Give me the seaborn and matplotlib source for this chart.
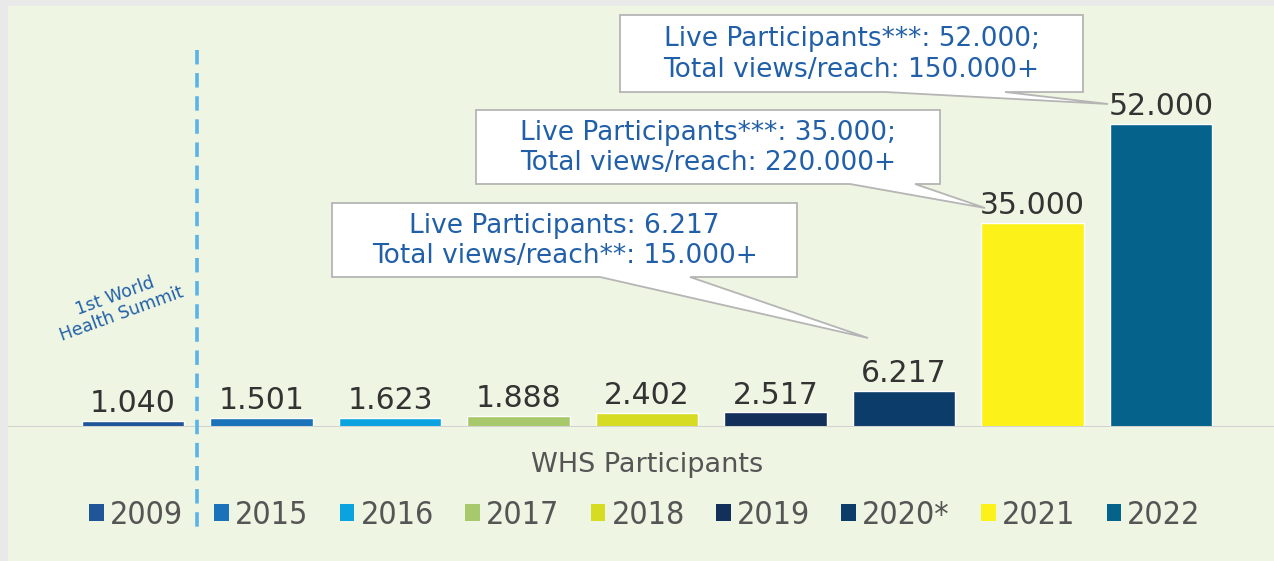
import matplotlib
matplotlib.use("Agg")
import matplotlib.pyplot as plt
import seaborn as sns
import pandas as pd
from matplotlib.patches import Patch, Polygon, Rectangle
from matplotlib.lines import Line2D
from matplotlib.font_manager import FontProperties

# data
years = ["2009", "2015", "2016", "2017", "2018", "2019", "2020*", "2021", "2022"]
participants = [1040, 1501, 1623, 1888, 2402, 2517, 6217, 35000, 52000]
value_labels = ["1.040", "1.501", "1.623", "1.888", "2.402", "2.517", "6.217", "35.000", "52.000"]
bar_colors = ["#1f5599", "#1a72b8", "#0aa3e0", "#a8c86c", "#d6dc22",
              "#12305a", "#0c3d6a", "#fcf21a", "#05628a"]

callout_texts = [
    "Live Participants***: 52.000;\nTotal views/reach: 150.000+",
    "Live Participants***: 35.000;\nTotal views/reach: 220.000+",
    "Live Participants: 6.217\nTotal views/reach**: 15.000+",
]

W, H = 1274, 561
BG = "#eef5e2"
TXT_BLUE = "#2160a8"

sns.set_style("white")
plt.rcParams["font.family"] = ["DejaVu Sans"]

fig = plt.figure(figsize=(W / 100, H / 100), dpi=100)
fig.patch.set_facecolor("#e9e9e9")
# pale green panel with thin grey border on top/left
fig.add_artist(Rectangle((8 / W, 0), 1, 1 - 6 / H, transform=fig.transFigure,
                         facecolor=BG, edgecolor="none", zorder=0))

def px(x, y):
    return (x / W, 1 - y / H)

# axes: baseline at y=427px, 52000 top at y=124px, bar centres 133..1161 px
step = 128.5
ax = fig.add_axes([8 / W, (H - 427) / H, (W - 8) / W, (427 - 6) / H])
ax.set_facecolor("none")

df = pd.DataFrame({"year": years, "value": participants})
sns.barplot(data=df, x="year", y="value", hue="year", palette=bar_colors,
            width=0.8, dodge=False, legend=False, ax=ax, saturation=1)

ax.set_xlim((8 - 133) / step, (W - 133) / step)
ax.set_ylim(0, 421 / 303 * 52000)
for s in ax.spines.values():
    s.set_visible(False)
ax.set_xticks([])
ax.set_yticks([])
ax.set_xlabel("")
ax.set_ylabel("")
ax.axhline(0, color="#d2d2d2", lw=2.2, zorder=1)

for i, (v, lab) in enumerate(zip(participants, value_labels)):
    ax.annotate(lab, (i, v), xytext=(0, 2), textcoords="offset points",
                ha="center", va="bottom", fontsize=21.5, color="#333333")

# dashed separator between 2009 and 2015
fig.add_artist(Line2D([197 / W, 197 / W], [1 - 50 / H, 1 - 528 / H],
                      transform=fig.transFigure, color="#5ab4e8", lw=2.6,
                      linestyle=(0, (4, 2.4))))

fig.text(*px(118, 305), "1st World\nHealth Summit", rotation=20, ha="center",
         va="center", fontsize=12.5, color=TXT_BLUE, linespacing=1.1)

# callout boxes
callout_shapes = [
    [(620, 15), (1083, 15), (1083, 92), (1005, 92), (1108, 104), (885, 92), (620, 92)],
    [(476, 110), (940, 110), (940, 184), (915, 184), (985, 208), (850, 184), (476, 184)],
    [(332, 203), (797, 203), (797, 277), (690, 277), (868, 338), (600, 277), (332, 277)],
]
for pts, txt in zip(callout_shapes, callout_texts):
    poly = Polygon([px(x, y) for x, y in pts], closed=True, transform=fig.transFigure,
                   facecolor="white", edgecolor="#b5b5b5", lw=1.3, zorder=3)
    fig.add_artist(poly)
    xs = [p[0] for p in pts[:3]]
    cx = (min(xs) + max(xs)) / 2
    cy = (pts[0][1] + pts[2][1]) / 2
    fig.text(*px(cx, cy + 1), txt, ha="center", va="center", fontsize=19,
             color=TXT_BLUE, linespacing=1.22, zorder=4)

fig.text(*px(647, 465), "WHS Participants", ha="center", va="center",
         fontsize=19.5, color="#555555")

handles = [Patch(facecolor=c, edgecolor="none") for c in bar_colors]
leg_font = FontProperties(family="DejaVu Sans", stretch="condensed", size=23)
leg = fig.legend(handles, years, loc="center", bbox_to_anchor=px(645, 515),
                 ncol=9, frameon=False, handlelength=0.45, handleheight=0.45,
                 handletextpad=0.2, columnspacing=0.98, prop=leg_font)
for t in leg.get_texts():
    t.set_color("#555555")

fig.savefig("out.png", dpi=100, facecolor=fig.get_facecolor())
